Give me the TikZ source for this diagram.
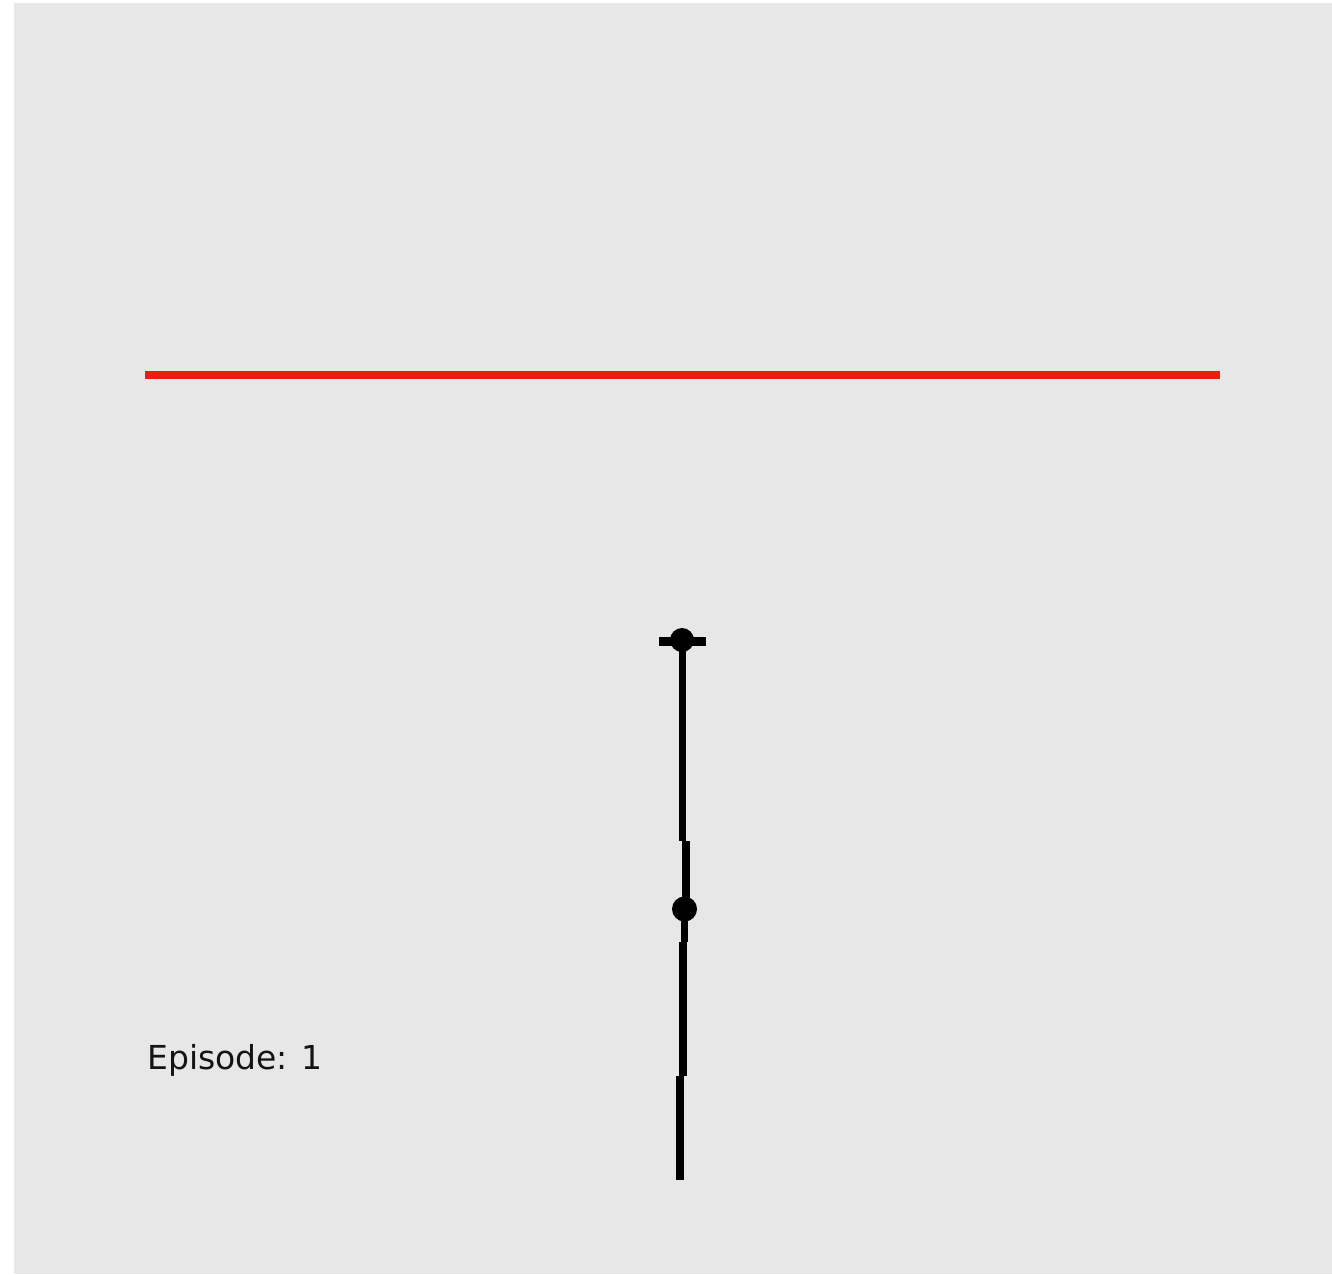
\documentclass[tikz,border=0pt]{standalone}
\usepackage{fontspec}
\setmainfont{DejaVu Sans}
\definecolor{bggray}{HTML}{E7E7E7}
\definecolor{trackred}{HTML}{E8200A}
\begin{document}
\begin{tikzpicture}[x=1pt,y=-1pt,
  pole/.style={line width=7.5pt,black},
  joint/.style={circle,fill=black,inner sep=0pt,minimum size=#1}]
\useasboundingbox (0,0) rectangle (1332,1274);
\fill[white] (0,0) rectangle (1332,1274);
\fill[bggray] (14,3) rectangle (1332,1274);
% red line
\draw[trackred,line width=8pt] (145,375) -- (1220,375);
% pole segments
\draw[pole] (682.5,641) -- (682.5,841);
\draw[pole] (686,841) -- (686,920);
\draw[pole] (684.5,920) -- (684.5,942);
\draw[pole] (683,942) -- (683,1076);
\draw[pole] (680,1076) -- (680,1180);
% top crossbar and joint
\draw[line width=9pt] (659,641.5) -- (706,641.5);
\node[joint=24pt] (top) at (682,640) {};
\node[joint=25pt] (mid) at (684.5,909) {};
% label
\node[anchor=base west,font=\fontsize{33}{36}\selectfont,text=black!92,inner sep=0pt] (ep) at (147,1069) {Episode: 1};
\end{tikzpicture}
\end{document}
